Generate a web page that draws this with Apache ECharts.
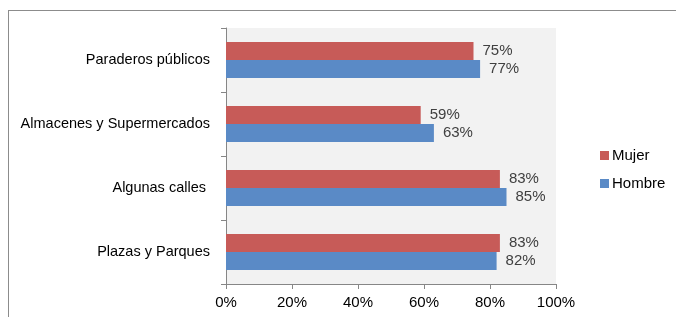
<!DOCTYPE html>
<html>
<head>
<meta charset="utf-8">
<script src="https://cdn.jsdelivr.net/npm/echarts@6/dist/echarts.min.js"></script>
<style>
  html, body { margin: 0; padding: 0; width: 676px; height: 317px; background: #fff; overflow: hidden; }
  #frame { position: absolute; left: 8px; top: 10px; width: 720px; height: 340px; border: 1px solid #8c8c8c; box-sizing: border-box; }
  #container { position: absolute; left: 0; top: 0; width: 676px; height: 317px; }
</style>
</head>
<body>
<div id="frame"></div>
<div id="container"></div>
<script>
  var categories = ['Plazas y Parques', 'Algunas calles ', 'Almacenes y Supermercados', 'Paraderos públicos'];
  var mujer = [83, 83, 59, 75];
  var hombre = [82, 85, 63, 77];
  var xTicks = [0, 20, 40, 60, 80, 100];

  var myChart = echarts.init(document.getElementById('container'));
  var labelStyle = {
    show: true,
    position: 'right',
    distance: 9,
    color: '#404040',
    fontSize: 15,
    fontFamily: 'Liberation Sans',
    formatter: function (p) { return p.value + '%'; }
  };
  var option = {
    animation: false,
    textStyle: { fontFamily: 'Liberation Sans' },
    legend: {
      orient: 'vertical',
      left: 595,
      top: 143,
      itemWidth: 9,
      itemHeight: 9,
      itemGap: 13,
      icon: 'rect',
      data: ['Mujer', 'Hombre'],
      textStyle: { fontSize: 15, color: '#000', padding: [0, 0, 0, -2] }
    },
    grid: {
      left: 226, right: 120, top: 28, bottom: 33,
      show: true, backgroundColor: '#f2f2f2', borderWidth: 0
    },
    xAxis: {
      type: 'value',
      min: 0, max: 100, interval: 20,
      axisLine: { show: true, lineStyle: { color: '#868686' } },
      axisTick: { show: true, length: 5, lineStyle: { color: '#868686' } },
      splitLine: { show: false },
      axisLabel: {
        color: '#000', fontSize: 15, margin: 11,
        formatter: function (v) { return xTicks.indexOf(v) >= 0 ? v + '%' : ''; }
      }
    },
    yAxis: {
      type: 'category',
      data: categories,
      axisLine: { show: true, lineStyle: { color: '#868686' } },
      axisTick: { show: true, length: 5, lineStyle: { color: '#868686' } },
      axisLabel: { color: '#000', fontSize: 14.5, margin: 16 }
    },
    series: [
      {
        name: 'Mujer', type: 'bar', data: mujer,
        barWidth: 18, barGap: '0%', barCategoryGap: '44%',
        itemStyle: { color: '#c75b58' },
        label: labelStyle
      },
      {
        name: 'Hombre', type: 'bar', data: hombre,
        barWidth: 18, barGap: '0%',
        itemStyle: { color: '#5a8ac6' },
        label: labelStyle
      }
    ]
  };
  myChart.setOption(option);
</script>
</body>
</html>
